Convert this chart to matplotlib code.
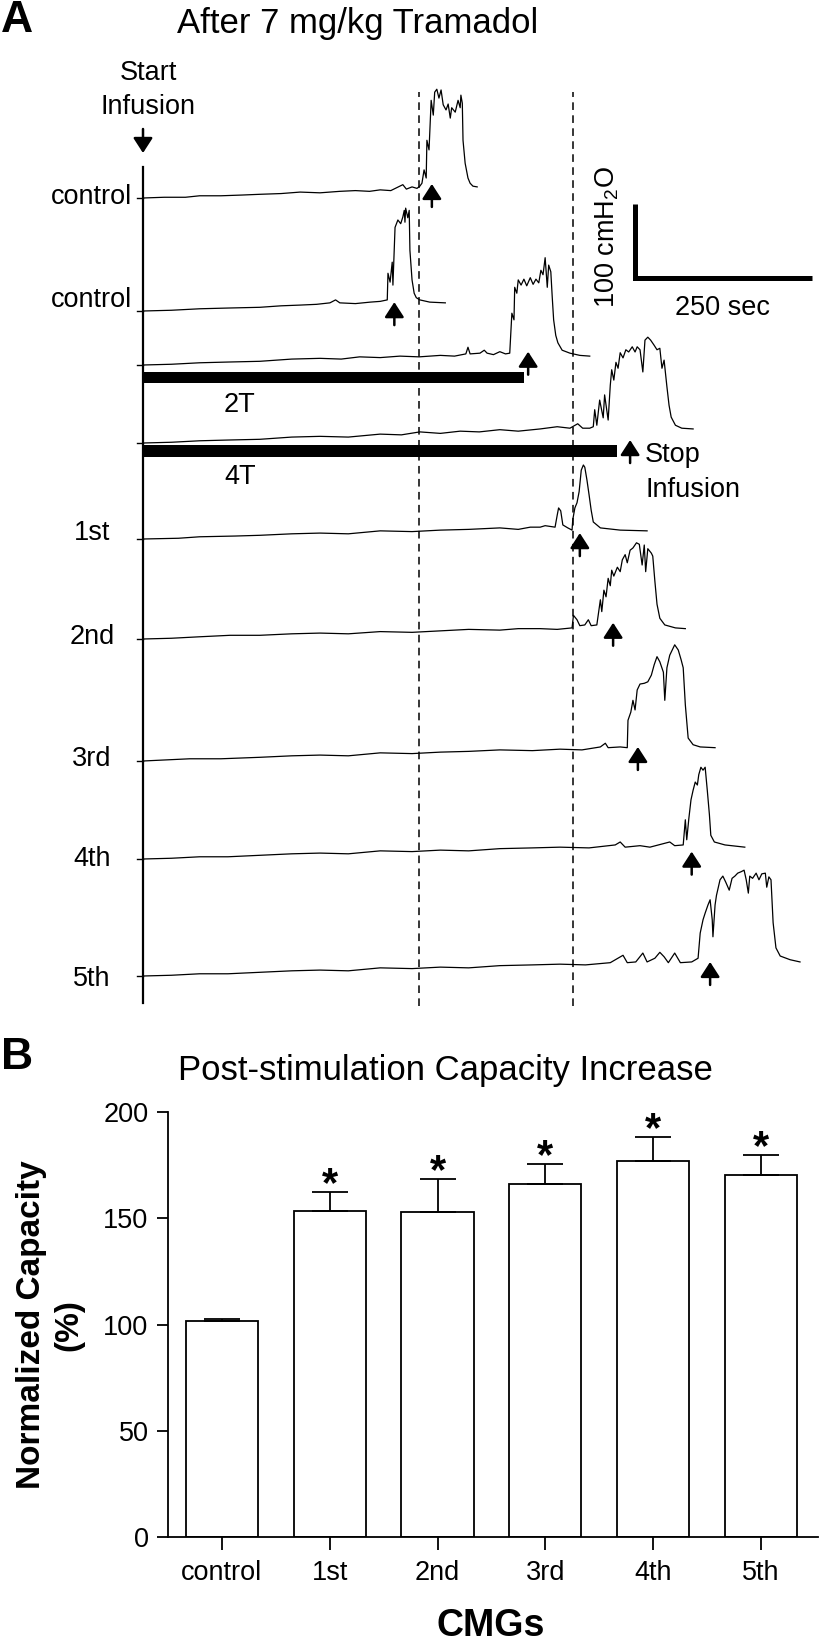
import numpy as np
import matplotlib
matplotlib.use('Agg')
import matplotlib.pyplot as plt

plt.rcParams['font.family'] = ['Liberation Sans', 'DejaVu Sans']
plt.rcParams['mathtext.fontset'] = 'custom'
plt.rcParams['mathtext.rm'] = 'Liberation Sans'
plt.rcParams['mathtext.default'] = 'regular'

# ---- panel A: cystometrograms, time (s) from start of infusion, pressure (cmH2O)
ctrl1_t = [0, 30, 60, 80, 110, 140, 165, 195, 222, 250, 278, 300, 320, 335, 350, 367, 372, 380, 387, 391,
           394, 397, 400, 401, 404, 407, 410, 412, 415, 418, 421, 424, 428, 431, 434, 436, 441, 445, 448, 449,
           451, 452, 455, 459, 462, 466, 472]
ctrl1_p = [5, 6, 6, 8, 8, 9, 10, 11, 13, 12, 14, 15, 14, 16, 15, 23, 17, 20, 18, 21,
           25, 43, 32, 83, 70, 137, 117, 148, 152, 140, 151, 131, 124, 132, 113, 127, 121, 137, 127, 144,
           133, 83, 52, 32, 25, 21, 20]

ctrl2_t = [0, 40, 80, 120, 165, 195, 222, 245, 264, 272, 278, 300, 321, 335, 345, 346, 349, 352, 353, 356,
           360, 364, 367, 369, 370, 371, 374, 376, 377, 380, 383, 386, 391, 405, 427]
ctrl2_p = [5, 6, 8, 9, 10, 12, 13, 14, 16, 20, 16, 15, 17, 18, 20, 56, 44, 71, 40, 118,
           128, 123, 132, 141, 125, 144, 131, 141, 87, 47, 29, 23, 20, 17, 16]

inf2t_t = [0, 40, 80, 120, 165, 210, 250, 280, 306, 335, 363, 390, 420, 440, 456, 459, 462, 476, 482, 486,
           495, 504, 512, 518, 521, 524, 525, 528, 530, 534, 538, 542, 547, 551, 555, 559, 562, 565, 568, 571,
           573, 576, 578, 580, 583, 586, 592, 603, 617, 631]
inf2t_p = [5, 6, 8, 9, 10, 13, 14, 13, 16, 15, 17, 16, 18, 17, 20, 29, 20, 21, 25, 21,
           19, 23, 20, 21, 75, 66, 110, 102, 120, 113, 121, 112, 123, 114, 121, 116, 133, 127, 150, 110,
           140, 131, 97, 66, 45, 35, 25, 21, 18, 17]

inf4t_t = [0, 40, 80, 120, 165, 210, 250, 290, 335, 365, 391, 420, 448, 475, 504, 530, 561, 585, 603, 614,
           621, 631, 636, 638, 641, 645, 650, 652, 657, 660, 662, 665, 668, 671, 674, 678, 682, 686, 691, 695,
           698, 702, 706, 709, 713, 717, 722, 726, 730, 733, 736, 740, 743, 746, 752, 761, 777]
inf4t_p = [5, 6, 8, 9, 10, 13, 14, 13, 17, 16, 20, 18, 21, 20, 23, 21, 24, 27, 25, 31,
           25, 25, 27, 50, 29, 63, 39, 70, 36, 83, 104, 90, 114, 106, 127, 120, 131, 128, 135, 128,
           135, 131, 101, 144, 148, 144, 137, 131, 133, 106, 117, 81, 56, 40, 29, 25, 24]

cmg1_t = [0, 50, 80, 130, 165, 210, 250, 290, 335, 380, 420, 460, 504, 530, 547, 561, 568, 582, 585, 587,
          590, 593, 600, 606, 607, 610, 613, 616, 619, 622, 624, 627, 630, 633, 636, 646, 674, 712]
cmg1_p = [5, 6, 8, 9, 10, 12, 13, 12, 16, 15, 17, 18, 20, 18, 21, 21, 23, 21, 37, 47,
          43, 24, 20, 17, 31, 47, 54, 69, 98, 105, 102, 85, 65, 44, 28, 20, 17, 16]

cmg2_t = [0, 40, 80, 123, 165, 210, 250, 290, 335, 380, 420, 460, 504, 530, 561, 585, 606, 608, 613, 617,
          624, 629, 633, 641, 646, 648, 651, 654, 657, 660, 662, 665, 670, 674, 677, 681, 684, 688, 692, 697,
          701, 705, 708, 710, 713, 718, 720, 723, 726, 730, 737, 752, 766]
cmg2_p = [5, 6, 8, 10, 10, 12, 13, 12, 15, 14, 16, 18, 17, 19, 19, 18, 20, 37, 31, 23,
          24, 31, 23, 24, 58, 42, 71, 62, 87, 77, 98, 90, 102, 96, 112, 119, 108, 125, 128, 135,
          133, 105, 132, 96, 127, 121, 117, 83, 52, 33, 24, 20, 19]

cmg3_t = [0, 66, 110, 165, 210, 250, 290, 335, 380, 420, 460, 504, 550, 589, 620, 646, 653, 657, 674, 684,
          685, 689, 692, 695, 698, 702, 708, 713, 718, 722, 726, 730, 735, 737, 740, 744, 749, 751, 756, 760,
          763, 766, 770, 777, 787, 808]
cmg3_p = [5, 8, 8, 10, 12, 13, 12, 16, 15, 17, 18, 20, 19, 21, 20, 24, 29, 23, 24, 23,
          60, 71, 87, 74, 101, 109, 110, 112, 121, 135, 146, 139, 125, 87, 131, 148, 158, 162, 155, 142,
          131, 81, 36, 27, 24, 23]

cmg4_t = [0, 40, 80, 120, 165, 210, 250, 290, 335, 380, 420, 460, 504, 550, 589, 630, 667, 674, 681, 702,
          716, 744, 751, 763, 766, 768, 771, 774, 777, 780, 783, 785, 788, 791, 794, 797, 800, 802, 807, 822, 850]
cmg4_p = [5, 6, 8, 8, 10, 12, 13, 12, 16, 15, 17, 16, 19, 20, 21, 20, 24, 28, 21, 23,
          21, 28, 23, 24, 58, 31, 60, 85, 98, 109, 105, 119, 129, 125, 129, 98, 65, 37, 28, 24, 21]

cmg5_t = [0, 40, 80, 120, 165, 210, 250, 290, 335, 380, 420, 460, 504, 550, 589, 625, 660, 678, 684, 696,
          706, 712, 723, 730, 736, 742, 751, 759, 775, 784, 787, 791, 794, 798, 801, 804, 805, 808, 810, 815,
          819, 823, 828, 832, 836, 840, 845, 849, 852, 855, 857, 861, 866, 870, 874, 879, 881, 884, 887, 890,
          894, 900, 914, 928]
cmg5_p = [5, 6, 8, 8, 10, 12, 13, 12, 16, 15, 17, 16, 19, 20, 21, 20, 23, 33, 23, 24,
          36, 24, 29, 37, 31, 23, 36, 23, 24, 29, 63, 81, 90, 101, 108, 81, 58, 101, 114, 135,
          140, 132, 121, 137, 140, 144, 146, 148, 135, 117, 140, 137, 144, 135, 143, 144, 125, 139, 135, 77,
          43, 32, 27, 24]

traces = [(ctrl1_t, ctrl1_p), (ctrl2_t, ctrl2_p), (inf2t_t, inf2t_p), (inf4t_t, inf4t_p),
          (cmg1_t, cmg1_p), (cmg2_t, cmg2_p), (cmg3_t, cmg3_p), (cmg4_t, cmg4_p), (cmg5_t, cmg5_p)]
row_labels = ['control', 'control', None, None, '1st', '2nd', '3rd', '4th', '5th']
void_t = [408, 355, 544, 688, 617, 664, 699, 775, 801]      # arrows (voiding)
arrow_level = [24, 17, 23, 9, 13, 27, 24, 15, 24]           # cmH2O at arrow tip
infusion_len = [538, 670]                                    # tramadol infusion bars (s)
infusion_names = ['2T', '4T']

# ---- panel B
cmg_labels = ['control', '1st', '2nd', '3rd', '4th', '5th']
capacity = [101.5, 153.3, 152.8, 166.0, 176.9, 170.3]
sem = [1.0, 9.0, 15.6, 9.5, 11.3, 9.4]
signif = [False, True, True, True, True, True]

W, H = 824, 1644
SX = 250 / 177.0   # s per pixel
SY = 100 / 74.0    # cmH2O per pixel


def fx(x):
    return x / W


def fy(y):
    return 1 - y / H


def ay(ypx):
    return (1010 - ypx) * SY


fig = plt.figure(figsize=(8.24, 16.44), dpi=100)

axa = fig.add_axes([0, 1 - 1010 / H, 1, 1010 / H])
axa.set_xlim(-143 * SX, (W - 143) * SX)
axa.set_ylim(0, 1010 * SY)
axa.axis('off')

row_px = [198, 311, 365, 443, 539, 639, 761, 859, 976]
label_px = [197, 300, None, None, 533, 637, 759, 859, 979]
offsets = [ay(r) - 5 for r in row_px]

# start-of-infusion line and dashed reference lines
axa.plot([0, 0], [ay(1003), ay(167)], color='k', lw=1.6)
for td in [390, 607]:
    axa.plot([td, td], [ay(1006), ay(92)], color='k', lw=1.1, ls=(0, (5, 3.5)))

for i, (t, p) in enumerate(traces):
    off = offsets[i]
    axa.plot(t, np.array(p) + off, color='k', lw=0.9)
    axa.plot([-6 * SX, 0], [off + 5, off + 5], color='k', lw=1.0)
    tip = off + arrow_level[i]
    axa.annotate('', xy=(void_t[i], tip), xytext=(void_t[i], tip - 23 * SY),
                 arrowprops=dict(arrowstyle='-|>,head_length=0.65,head_width=0.42', color='k',
                                 lw=1.8, shrinkA=0, shrinkB=0, mutation_scale=14))
    if row_labels[i]:
        fig.text(fx(92), fy(label_px[i]), row_labels[i], ha='center', va='center', fontsize=19.5)

# infusion bars
for c, dur, name, lab in zip([377.5, 451], infusion_len, infusion_names, [405, 477]):
    axa.barh(ay(c), dur, left=0, height=11.5 * SY, color='k')
    fig.text(fx(240), fy(lab), name, ha='center', va='center', fontsize=19.5)

# start infusion arrow
axa.annotate('', xy=(0, ay(153)), xytext=(0, ay(129)),
             arrowprops=dict(arrowstyle='-|>,head_length=0.65,head_width=0.42', color='k',
                             lw=1.8, shrinkA=0, shrinkB=0, mutation_scale=14))

# scale bar
t0, y0 = (635 - 143) * SX, ay(278)
axa.plot([t0, t0, t0 + 250], [y0 + 100, y0, y0], color='k', lw=3.6,
         solid_joinstyle='miter', solid_capstyle='butt')

fig.text(fx(1), fy(21), 'A', ha='left', va='center', fontsize=32, fontweight='bold')
fig.text(fx(358), fy(24), 'After 7 mg/kg Tramadol', ha='center', va='center', fontsize=25)
fig.text(fx(148), fy(73), 'Start', ha='center', va='center', fontsize=19.5)
fig.text(fx(148), fy(107), 'Infusion', ha='center', va='center', fontsize=19.5)
fig.text(fx(645), fy(455), 'Stop', ha='left', va='center', fontsize=19.5)
fig.text(fx(645), fy(490), 'Infusion', ha='left', va='center', fontsize=19.5)
fig.text(fx(607), fy(237), '100 cmH$_2$O', ha='center', va='center', rotation=90, fontsize=19.5)
fig.text(fx(722), fy(308), '250 sec', ha='center', va='center', fontsize=19.5)

# ---- panel B
axb = fig.add_axes([168 / W, 1 - 1537 / H, 650 / W, 425 / H])
x = np.arange(len(cmg_labels))
axb.bar(x, capacity, width=0.67, color='white', edgecolor='k', lw=1.3, zorder=2)
axb.errorbar(x, capacity, yerr=[np.zeros(len(x)), sem], fmt='none', ecolor='k',
             elinewidth=1.3, capsize=13, capthick=1.3, zorder=3)
for i in range(len(x)):
    if signif[i]:
        axb.text(x[i], capacity[i] + sem[i] - 2, '*', ha='center', va='baseline',
                 fontsize=30, fontweight='bold')
axb.set_xlim(-0.501, 5.53)
axb.set_ylim(0, 200)
axb.set_yticks([0, 50, 100, 150, 200])
axb.set_xticks(x)
axb.set_xticklabels(cmg_labels)
for s in ['top', 'right']:
    axb.spines[s].set_visible(False)
for s in ['left', 'bottom']:
    axb.spines[s].set_linewidth(1.3)
axb.tick_params(axis='y', length=8, width=1.3, labelsize=19.5, pad=6)
axb.tick_params(axis='x', length=9.5, width=1.3, labelsize=19.5, pad=7)

fig.text(fx(1), fy(1057), 'B', ha='left', va='center', fontsize=32, fontweight='bold')
fig.text(fx(445), fy(1070), 'Post-stimulation Capacity Increase', ha='center', va='center', fontsize=25)
fig.text(fx(50), fy(1325), 'Normalized Capacity\n(%)', ha='center', va='center', rotation=90,
         fontsize=24, fontweight='bold', linespacing=1.25, multialignment='center')
fig.text(fx(491), fy(1626), 'CMGs', ha='center', va='center', fontsize=27, fontweight='bold')

fig.savefig('out.png', dpi=100)
